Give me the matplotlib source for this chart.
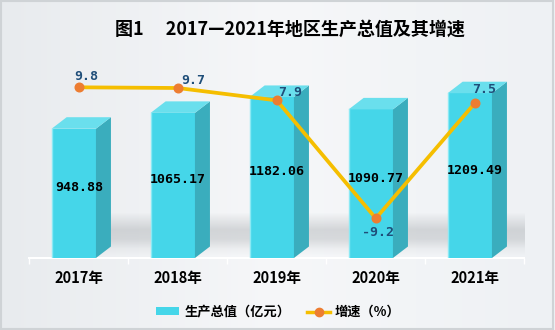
import numpy as np
import matplotlib
matplotlib.use('Agg')
import matplotlib.pyplot as plt
from matplotlib.patches import Patch, Rectangle, Polygon
from matplotlib.lines import Line2D
from matplotlib.font_manager import FontProperties
from matplotlib.colors import to_rgb

# ---------------- data ----------------
years = ['2017年', '2018年', '2019年', '2020年', '2021年']
gdp = [948.88, 1065.17, 1182.06, 1090.77, 1209.49]
growth = [9.8, 9.7, 7.9, -9.2, 7.5]
gdp_labels = ['948.88', '1065.17', '1182.06', '1090.77', '1209.49']
growth_labels = ['9.8', '9.7', '7.9', '-9.2', '7.5']
title = '图1\u3000 2017—2021年地区生产总值及其增速'
legend_labels = ['生产总值（亿元）', '增速（%）']

# ---------------- style ----------------
CJK = ['Noto Sans CJK SC', 'DejaVu Sans']
MONO = ['DejaVu Sans Mono']
C_FRONT = '#45d6e9'
C_SIDE = '#3aadbd'
C_TOP = '#6adfed'
C_EDGE = '#8be9f4'
C_LINE = '#f5be00'
C_MARK = '#ed7d31'
C_GLAB = '#1f4e79'

W, H = 555, 330
fig = plt.figure(figsize=(W / 100, H / 100), dpi=100)

# background gradient
bg = fig.add_axes([0, 0, 1, 1], zorder=-10)
c_l, c_m, c_r = np.array(to_rgb('#e8ebee')), np.array(to_rgb('#f6f7f9')), np.array(to_rgb('#eef1f4'))
t = np.linspace(0, 1, 300)
grad = np.where(t[:, None] < 0.5,
                c_l + (c_m - c_l) * (t[:, None] / 0.5),
                c_m + (c_r - c_m) * ((t[:, None] - 0.5) / 0.5))
bg.imshow(grad[None, :, :], aspect='auto', extent=[0, 1, 0, 1])
bg.set_xlim(0, 1); bg.set_ylim(0, 1)
bg.axis('off')
fig.patches.append(Rectangle((0.002, 0.003), 0.995, 0.994, transform=fig.transFigure,
                             fill=False, edgecolor='#cfd3d6', linewidth=1.5))

# main axes (pixel-matched)
ax_l, ax_r = 29.3, 524.3
ax_b, ax_h = 72, 218
ax = fig.add_axes([ax_l / W, ax_b / H, (ax_r - ax_l) / W, ax_h / H])
ax.patch.set_alpha(0)
YMAX = 1600
ax.set_xlim(-0.5, 4.5)
ax.set_ylim(0, YMAX)

px_x = (ax_r - ax_l) / 5.0
px_y = ax_h / YMAX
fw = 44.3 / px_x
foff = -5.0 / px_x
ddx = 15.0 / px_x
ddy = 11.5 / px_y
x = np.arange(len(years))

# shadow band behind bars
alpha_prof = np.interp(np.linspace(0, 1, 60), [0, 0.4, 0.62, 0.85, 1.0], [0.0, 0.32, 0.28, 0.06, 0.0])
shadow = np.zeros((60, 2, 4))
shadow[..., :3] = to_rgb('#8d9296')
shadow[..., 3] = alpha_prof[:, None]
ax.imshow(shadow, aspect='auto', zorder=1,
          extent=[foff - fw / 2, 4.5, 2 / px_y, 46 / px_y], interpolation='bilinear')

# bars (front faces)
ax.bar(x + foff, gdp, width=fw, color=C_FRONT, zorder=3, linewidth=0)
for xi, v in zip(x, gdp):
    xl = xi + foff - fw / 2
    xr = xi + foff + fw / 2
    ax.add_patch(Polygon([(xr, 0), (xr + ddx, ddy), (xr + ddx, v + ddy), (xr, v)],
                         closed=True, facecolor=C_SIDE, edgecolor='none', zorder=3))
    ax.add_patch(Polygon([(xl, v), (xr, v), (xr + ddx, v + ddy), (xl + ddx, v + ddy)],
                         closed=True, facecolor=C_TOP, edgecolor='none', zorder=3))
    ax.plot([xl + 0.004, xl + 0.004], [0, v], color=C_EDGE, lw=1.0, zorder=4)

ax.set_xlim(-0.5, 4.5)
ax.set_ylim(0, YMAX)

for s in ['top', 'left', 'right']:
    ax.spines[s].set_visible(False)
ax.spines['bottom'].set_color('white')
ax.spines['bottom'].set_linewidth(1.5)
ax.set_yticks([])
ax.set_xticks(x)
ax.set_xticklabels(years, fontproperties=FontProperties(family=CJK, weight='bold', size=10.5))
ax.tick_params(axis='x', which='major', length=0, pad=9)
ax.set_xticks(np.arange(-0.5, 5.0, 1.0), minor=True)
ax.tick_params(axis='x', which='minor', length=4, width=1, color='white', direction='out')

# growth line on secondary axis
ax2 = ax.twinx()
ax2.set_ylim(-14.95, 16.66)
ax2.set_xlim(-0.5, 4.5)
ax2.axis('off')
ax2.plot(x, growth, color=C_LINE, lw=2.7, zorder=5,
         marker='o', markersize=6.2, markerfacecolor=C_MARK, markeredgecolor=C_MARK)

# bar value labels
for xi, v, lab in zip(x, gdp, gdp_labels):
    ax2.annotate(lab, xy=(xi, v / 2), xycoords=ax.transData,
                 xytext=(0, 5.5), textcoords='offset pixels',
                 ha='center', va='center', fontsize=9.5, fontweight='bold',
                 family=MONO, color='black', zorder=7)

# growth labels
g_off = [(7, 10.4), (15, 7.1), (13.6, 8.4), (2.6, -13.7), (9.7, 13.8)]
for xi, v, lab, (ox, oy) in zip(x, growth, growth_labels, g_off):
    ax2.annotate(lab, xy=(xi, v), xytext=(ox, oy), textcoords='offset pixels',
                 ha='center', va='center', fontsize=9.5, fontweight='bold',
                 family=MONO, color=C_GLAB, zorder=7)

# title
fig.text(290 / W, 1 - 29.5 / H, title, ha='center', va='center',
         fontproperties=FontProperties(family=CJK, weight='bold', size=13))

# legend
handles = [Patch(facecolor=C_FRONT, edgecolor='none'),
           Line2D([], [], color=C_LINE, lw=2.5, marker='o', markersize=6,
                  markerfacecolor=C_MARK, markeredgecolor=C_MARK)]
fig.legend(handles, legend_labels, loc='center', bbox_to_anchor=(278.5 / W, 1 - 311.7 / H),
           ncol=2, frameon=False, prop=FontProperties(family=CJK, weight='bold', size=9.5),
           handlelength=1.75, handletextpad=0.35, columnspacing=1.3, handleheight=0.45,
           borderaxespad=0, borderpad=0)

fig.savefig('out.png', dpi=100)
